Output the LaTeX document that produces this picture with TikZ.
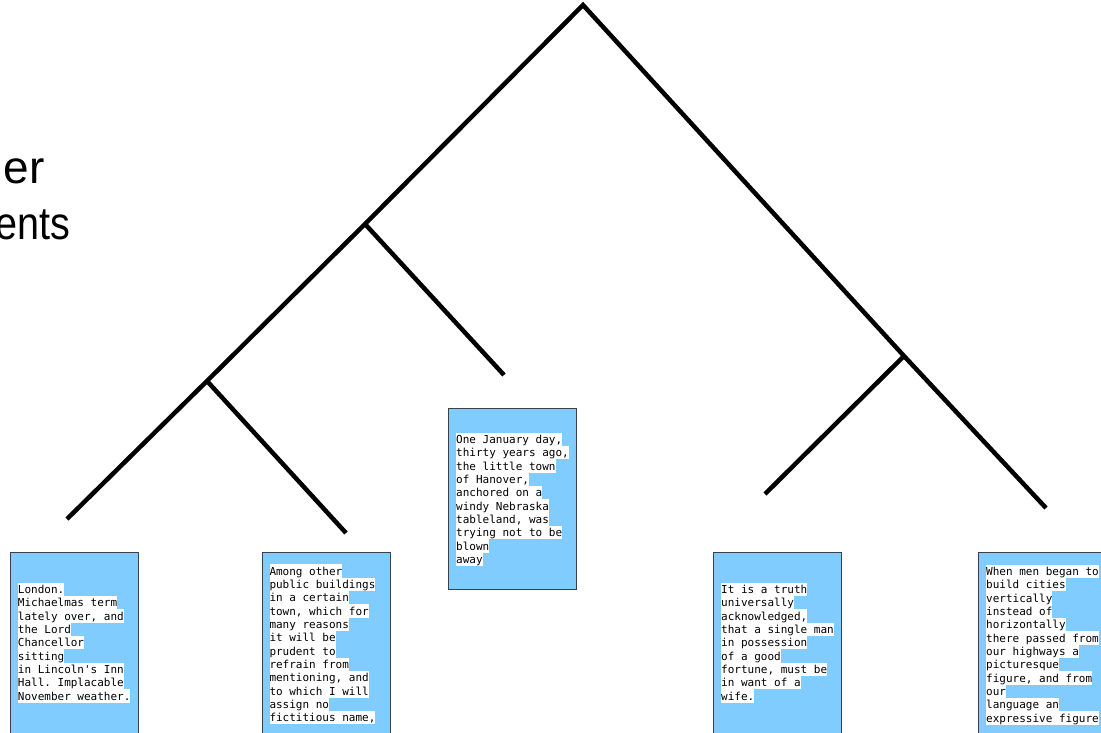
\documentclass[tikz,border=0pt]{standalone}
\usepackage{fontspec}
\setmainfont{Liberation Sans}
\setmonofont{DejaVu Sans Mono}
\definecolor{leafblue}{RGB}{128,204,255}
\definecolor{leafedge}{RGB}{55,65,75}
\begin{document}
\begin{tikzpicture}[x=1pt,y=-1pt,
  branch/.style={line width=4.5pt, line join=miter},
  docbox/.style={draw=leafedge, line width=1pt, fill=leafblue, inner sep=0pt,
    anchor=north west, minimum width=128pt, minimum height=181pt},
  hl/.style={fill=white, inner sep=0pt, anchor=north west, text height=11pt,
    text depth=2.33pt, font=\ttfamily\fontsize{11}{13.33}\selectfont},
  big/.style={font=\fontsize{46}{55}\selectfont, inner sep=0pt, anchor=base east}
]
\useasboundingbox (0,0) rectangle (1101,732);

% title fragments
\node[big] (t1) at (45,183) {er};
\node[big, xscale=0.86] (t2) at (70,239) {ents};

% dendrogram
\coordinate (root) at (583,5);
\coordinate (na) at (365,224);
\coordinate (nb) at (207,381);
\coordinate (nc) at (904,356);
\coordinate (l1) at (67,519);
\coordinate (l2) at (346,533);
\coordinate (l3) at (504,375);
\coordinate (l4) at (765,494);
\coordinate (l5) at (1046,508);
\draw[branch] (l1) -- (nb) -- (na) -- (root) -- (nc) -- (l5);
\draw[branch] (nb) -- (l2);
\draw[branch] (na) -- (l3);
\draw[branch] (nc) -- (l4);

% documents
\node[docbox, minimum height=190pt] (d1) at (10,552) {};
\node[docbox, minimum height=190pt] (d2) at (261.5,552) {};
\node[docbox] (d3) at (447.5,407.5) {};
\node[docbox, minimum height=190pt] (d4) at (713,552) {};
\node[docbox, minimum height=190pt] (d5) at (978,552) {};

\foreach \t [count=\i from 0] in {{London.~},{Michaelmas term~},{lately over, and},{the Lord~},{Chancellor~},{sitting},{in Lincoln's Inn},{Hall. Implacable},{November weather.}}
  \node[hl] (d1-\i) at (17.7,582.3+\i*13.333) {\t};

\foreach \t [count=\i from 0] in {{Among other~},{public buildings~},{in a certain~},{town, which for~},{many reasons},{it will be~},{prudent to},{refrain from~},{mentioning, and~},{to which I will},{assign no~},{fictitious name,}}
  \node[hl] (d2-\i) at (269.3,564+\i*13.333) {\t};

\foreach \t [count=\i from 0] in {{One January day,~},{thirty years ago,},{the little town~},{of Hanover,},{anchored on a~},{windy Nebraska},{tableland, was~},{trying not to be~},{blown},{away}}
  \node[hl] (d3-\i) at (456,432.3+\i*13.333) {\t};

\foreach \t [count=\i from 0] in {{It is a truth~},{universally~},{acknowledged,~},{that a single man},{in possession},{of a good~},{fortune, must be~},{in want of a~},{wife.}}
  \node[hl] (d4-\i) at (721,582.3+\i*13.333) {\t};

\foreach \t [count=\i from 0] in {{When men began to},{build cities},{vertically},{instead of~},{horizontally},{there passed from},{our highways a~},{picturesque},{figure, and from~},{our},{language an~},{expressive figure}}
  \node[hl] (d5-\i) at (986,564.3+\i*13.333) {\t};
\end{tikzpicture}
\end{document}
